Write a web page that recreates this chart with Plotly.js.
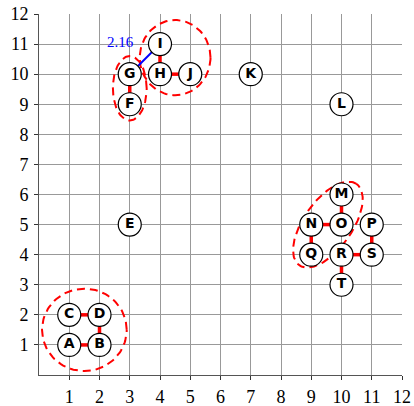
<!DOCTYPE html>
<html>
<head>
<meta charset="utf-8">
<script src="https://cdn.plot.ly/plotly-3.0.1.min.js"></script>
<style>html,body{margin:0;padding:0;background:#fff;}#chart{width:414px;height:406px;}</style>
</head>
<body>
<div id="chart"></div>
<script>
// Nodes
var nodeLabels = ["A","B","C","D","E","F","G","H","I","J","K","L","M","N","O","P","Q","R","S","T"];
var nodeX      = [1,2,1,2,3,3,3,4,4,5,7,10,10,9,10,11,9,10,11,10];
var nodeY      = [1,1,2,2,5,9,10,10,11,10,10,9,6,5,5,5,4,4,4,3];

// Red edges (from, to)
var edgeFrom = ["A","C","D","F","H","I","M","N","N","P","R","R"];
var edgeTo   = ["B","D","B","G","J","H","O","O","Q","S","S","T"];

// Blue distance link
var linkFrom = ["G"];
var linkTo   = ["I"];
var linkText = ["2.16"];

// Cluster ellipses (centre, semi-axes, rotation in degrees)
var clusterCx    = [1.5, 3.0, 4.5, 9.55];
var clusterCy    = [1.5, 9.53, 10.55, 5.0];
var clusterRx    = [1.4, 0.56, 1.17, 1.65];
var clusterRy    = [1.37, 1.07, 1.25, 0.8];
var clusterAngle = [0, 0, 0, 55];

// Axis ticks
var tickVals = [1,2,3,4,5,6,7,8,9,10,11,12];
var tickText = ["1","2","3","4","5","6","7","8","9","10","11","12"];

function idx(l){ return nodeLabels.indexOf(l); }

var traces = [];

// ellipses
for (var c = 0; c < clusterCx.length; c++) {
  var ex = [], ey = [];
  var a = clusterAngle[c] * Math.PI / 180;
  for (var k = 0; k <= 120; k++) {
    var t = 2 * Math.PI * k / 120;
    var px = clusterRx[c] * Math.cos(t), py = clusterRy[c] * Math.sin(t);
    ex.push(clusterCx[c] + px * Math.cos(a) - py * Math.sin(a));
    ey.push(clusterCy[c] + px * Math.sin(a) + py * Math.cos(a));
  }
  traces.push({x: ex, y: ey, mode: 'lines', line: {color: 'red', width: 2, dash: '8px,5px'}, hoverinfo: 'skip', showlegend: false});
}

// red edges
var rx = [], ry = [];
for (var e = 0; e < edgeFrom.length; e++) {
  var i = idx(edgeFrom[e]), j = idx(edgeTo[e]);
  rx.push(nodeX[i], nodeX[j], null);
  ry.push(nodeY[i], nodeY[j], null);
}
traces.push({x: rx, y: ry, mode: 'lines', line: {color: 'red', width: 3.5}, hoverinfo: 'skip', showlegend: false});

// blue link
var bx = [], by = [], annotations = [];
for (var b = 0; b < linkFrom.length; b++) {
  var i1 = idx(linkFrom[b]), j1 = idx(linkTo[b]);
  bx.push(nodeX[i1], nodeX[j1], null);
  by.push(nodeY[i1], nodeY[j1], null);
  annotations.push({
    x: (nodeX[i1] + nodeX[j1]) / 2, y: (nodeY[i1] + nodeY[j1]) / 2,
    xref: 'x', yref: 'y', text: linkText[b], showarrow: false,
    xanchor: 'right', yanchor: 'bottom', xshift: -9, yshift: 7,
    font: {family: 'Liberation Serif, serif', size: 15, color: 'blue'}
  });
}
traces.push({x: bx, y: by, mode: 'lines', line: {color: 'blue', width: 2}, hoverinfo: 'skip', showlegend: false});

// nodes
traces.push({
  x: nodeX, y: nodeY, text: nodeLabels.map(function(s){ return '<b>' + s + '</b>'; }), mode: 'markers+text',
  textposition: 'middle center',
  marker: {size: 23, color: 'white', line: {color: 'black', width: 1.2}},
  textfont: {family: 'DejaVu Sans, sans-serif', size: 14, color: 'black'},
  hoverinfo: 'text', showlegend: false, cliponaxis: false
});

var axisCommon = {
  range: [0, 12], tickvals: tickVals, ticktext: tickText,
  showgrid: true, gridcolor: '#999999', gridwidth: 1,
  zeroline: false, showline: true, linecolor: '#555', linewidth: 1,
  ticks: 'outside', ticklen: 4, tickcolor: '#333',
  tickfont: {family: 'Liberation Serif, serif', size: 18, color: 'black'},
  fixedrange: true
};

var layout = {
  width: 414, height: 406,
  margin: {l: 39, r: 12, t: 14, b: 31},
  paper_bgcolor: 'white', plot_bgcolor: 'white',
  xaxis: Object.assign({}, axisCommon, {ticklabelstandoff: 1}),
  yaxis: Object.assign({}, axisCommon, {ticklabelstandoff: 2}),
  annotations: annotations,
  showlegend: false
};

Plotly.newPlot('chart', traces, layout, {staticPlot: true, displayModeBar: false});
</script>
</body>
</html>
